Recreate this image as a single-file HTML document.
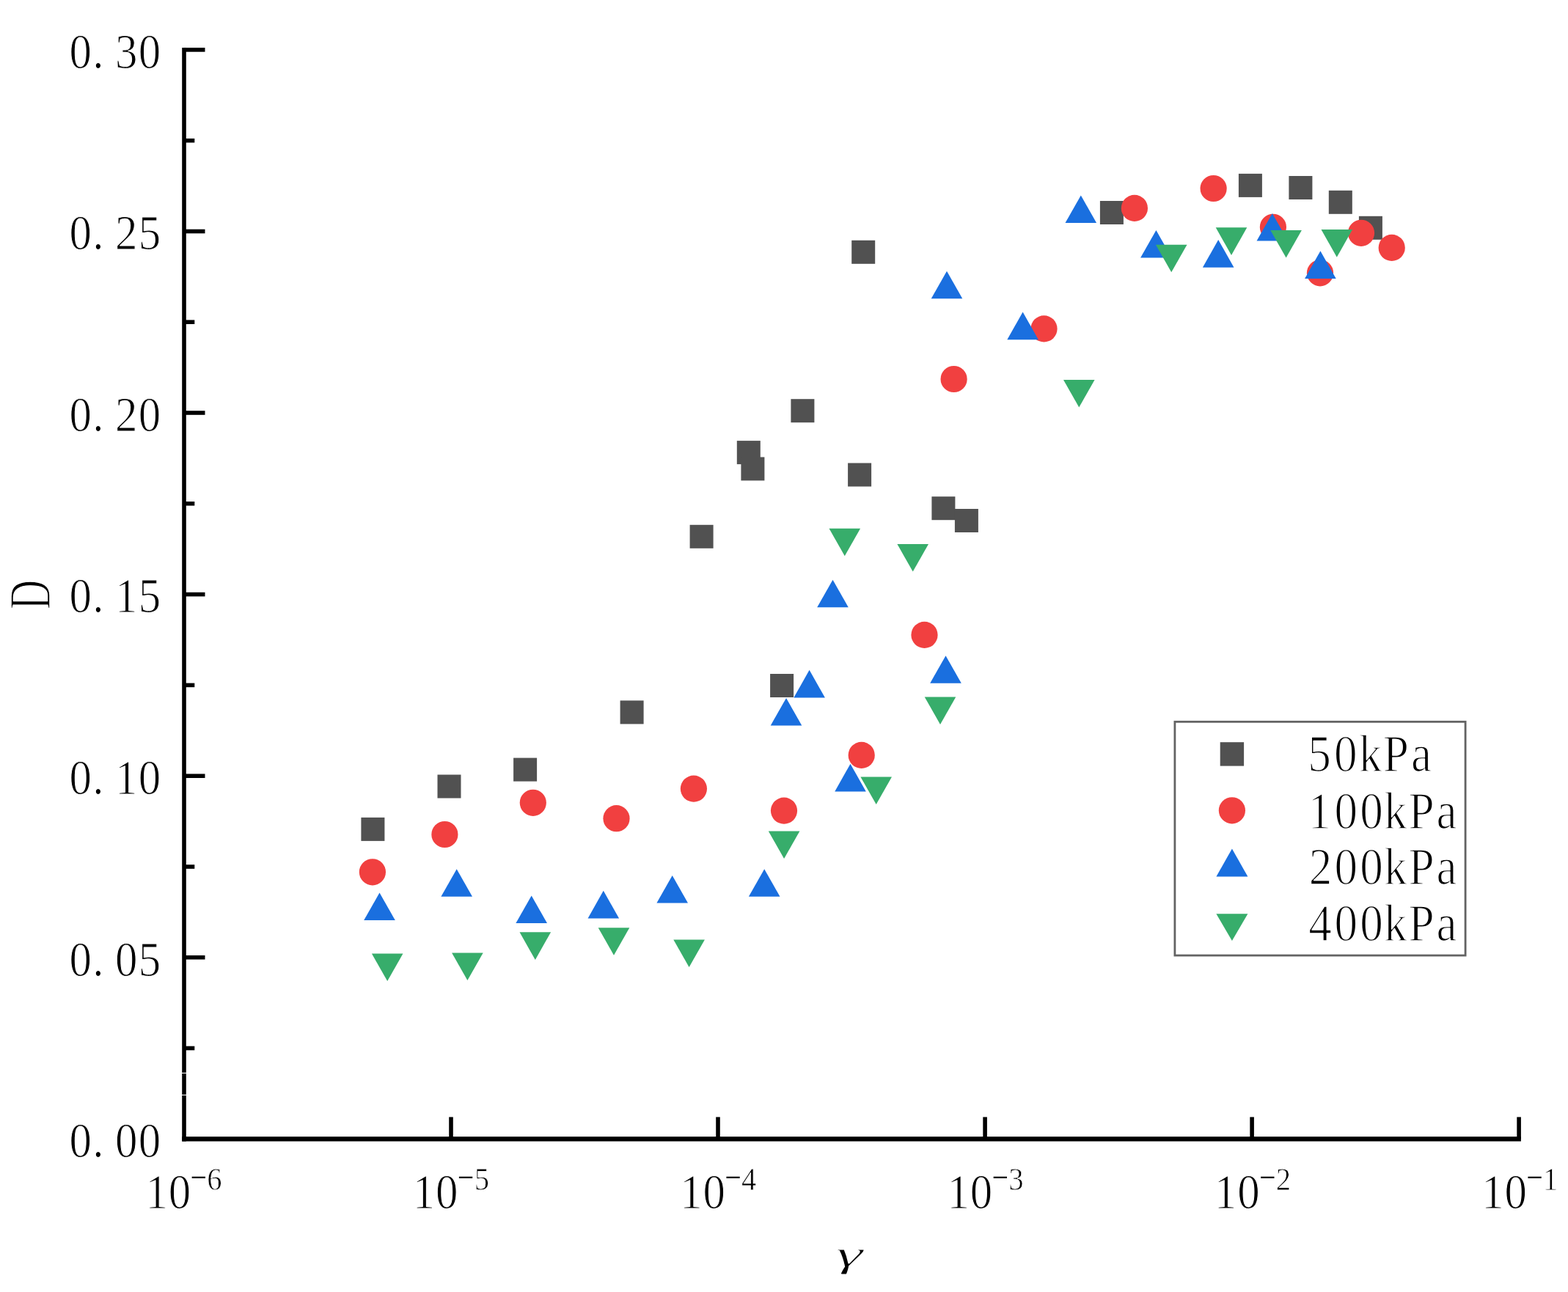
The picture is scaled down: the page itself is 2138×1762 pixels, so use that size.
<!DOCTYPE html>
<html lang="en"><head><meta charset="utf-8"><title>D vs γ</title>
<style>
html,body{margin:0;padding:0;background:#fff;}
body{width:2138px;height:1762px;overflow:hidden;}
svg{display:block;}
text{font-family:'Liberation Serif', 'Noto Serif CJK SC', serif;fill:#000;}
</style></head><body>
<svg width="2138" height="1762" viewBox="0 0 2138 1762">
<rect x="0" y="0" width="2138" height="1762" fill="#ffffff"/>
<g id="chart">
<g id="series-50kPa" fill="#515151">
<rect x="492.4" y="1114.9" width="32.0" height="32.0"/>
<rect x="596.5" y="1056.5" width="32.0" height="32.0"/>
<rect x="700.1" y="1033.6" width="32.0" height="32.0"/>
<rect x="845.6" y="955.4" width="32.0" height="32.0"/>
<rect x="1050.1" y="919.0" width="32.0" height="32.0"/>
<rect x="940.6" y="715.8" width="32.0" height="32.0"/>
<rect x="1004.8" y="601.1" width="32.0" height="32.0"/>
<rect x="1010.4" y="623.4" width="32.0" height="32.0"/>
<rect x="1078.4" y="544.2" width="32.0" height="32.0"/>
<rect x="1156.1" y="631.5" width="32.0" height="32.0"/>
<rect x="1161.2" y="327.8" width="32.0" height="32.0"/>
<rect x="1270.4" y="677.2" width="32.0" height="32.0"/>
<rect x="1301.9" y="694.0" width="32.0" height="32.0"/>
<rect x="1499.9" y="274.0" width="32.0" height="32.0"/>
<rect x="1688.9" y="236.9" width="32.0" height="32.0"/>
<rect x="1757.4" y="240.0" width="32.0" height="32.0"/>
<rect x="1811.8" y="259.8" width="32.0" height="32.0"/>
<rect x="1852.9" y="294.8" width="32.0" height="32.0"/>
</g>
<g id="series-100kPa" fill="#F14040">
<circle cx="507.9" cy="1189.3" r="18.1"/>
<circle cx="606.4" cy="1138.0" r="18.1"/>
<circle cx="726.8" cy="1094.8" r="18.1"/>
<circle cx="840.5" cy="1116.2" r="18.1"/>
<circle cx="945.9" cy="1075.6" r="18.1"/>
<circle cx="1069.0" cy="1105.6" r="18.1"/>
<circle cx="1174.7" cy="1029.9" r="18.1"/>
<circle cx="1260.5" cy="865.9" r="18.1"/>
<circle cx="1300.6" cy="517.0" r="18.1"/>
<circle cx="1423.5" cy="448.4" r="18.1"/>
<circle cx="1546.9" cy="283.9" r="18.1"/>
<circle cx="1654.6" cy="257.0" r="18.1"/>
<circle cx="1735.9" cy="309.8" r="18.1"/>
<circle cx="1800.0" cy="372.3" r="18.1"/>
<circle cx="1856.0" cy="317.8" r="18.1"/>
<circle cx="1897.7" cy="337.9" r="18.1"/>
</g>
<g id="series-200kPa" fill="#1A6FDF">
<polygon points="517.5,1217.4 538.8,1255.0 496.2,1255.0"/>
<polygon points="622.7,1185.2 644.0,1222.8 601.4,1222.8"/>
<polygon points="724.7,1221.4 746.0,1259.0 703.4,1259.0"/>
<polygon points="822.8,1214.8 844.1,1252.4 801.5,1252.4"/>
<polygon points="916.7,1193.9 938.0,1231.5 895.4,1231.5"/>
<polygon points="1042.2,1185.2 1063.5,1222.8 1020.9,1222.8"/>
<polygon points="1072.0,952.0 1093.3,989.6 1050.7,989.6"/>
<polygon points="1103.6,913.8 1124.9,951.4 1082.3,951.4"/>
<polygon points="1159.5,1041.8 1180.8,1079.4 1138.2,1079.4"/>
<polygon points="1135.5,790.7 1156.8,828.3 1114.2,828.3"/>
<polygon points="1289.5,894.2 1310.8,931.8 1268.2,931.8"/>
<polygon points="1291.0,369.7 1312.3,407.3 1269.7,407.3"/>
<polygon points="1394.6,425.6 1415.9,463.2 1373.3,463.2"/>
<polygon points="1473.8,266.4 1495.1,304.0 1452.5,304.0"/>
<polygon points="1576.4,313.9 1597.7,351.5 1555.1,351.5"/>
<polygon points="1661.2,327.1 1682.5,364.7 1639.9,364.7"/>
<polygon points="1734.8,291.0 1756.1,328.6 1713.5,328.6"/>
<polygon points="1800.4,342.3 1821.7,379.9 1779.1,379.9"/>
</g>
<g id="series-400kPa" fill="#37AD6B">
<polygon points="506.9,1300.5 549.5,1300.5 528.2,1338.1"/>
<polygon points="616.1,1299.4 658.7,1299.4 637.4,1337.0"/>
<polygon points="708.5,1271.3 751.1,1271.3 729.8,1308.9"/>
<polygon points="815.7,1265.2 858.3,1265.2 837.0,1302.8"/>
<polygon points="918.3,1281.4 960.9,1281.4 939.6,1319.0"/>
<polygon points="1047.8,1133.5 1090.4,1133.5 1069.1,1171.1"/>
<polygon points="1173.4,1059.5 1216.0,1059.5 1194.7,1097.1"/>
<polygon points="1260.7,950.4 1303.3,950.4 1282.0,988.0"/>
<polygon points="1130.5,720.7 1173.1,720.7 1151.8,758.3"/>
<polygon points="1223.4,742.0 1266.0,742.0 1244.7,779.6"/>
<polygon points="1450.0,518.0 1492.6,518.0 1471.3,555.6"/>
<polygon points="1575.9,333.7 1618.5,333.7 1597.2,371.3"/>
<polygon points="1657.7,310.3 1700.3,310.3 1679.0,347.9"/>
<polygon points="1732.3,313.9 1774.9,313.9 1753.6,351.5"/>
<polygon points="1801.5,313.1 1844.1,313.1 1822.8,350.7"/>
</g>
<g id="axes" fill="#000">
<rect x="248.2" y="65.1" width="5.6" height="1491.4"/>
<rect x="248.2" y="1550.1" width="1825.7" height="6.4"/>
<rect x="251.0" y="1426.7" width="14.3" height="5.6"/>
<rect x="251.0" y="1302.9" width="28.5" height="5.6"/>
<rect x="251.0" y="1179.2" width="14.3" height="5.6"/>
<rect x="251.0" y="1055.4" width="28.5" height="5.6"/>
<rect x="251.0" y="931.6" width="14.3" height="5.6"/>
<rect x="251.0" y="807.8" width="28.5" height="5.6"/>
<rect x="251.0" y="684.0" width="14.3" height="5.6"/>
<rect x="251.0" y="560.2" width="28.5" height="5.6"/>
<rect x="251.0" y="436.4" width="14.3" height="5.6"/>
<rect x="251.0" y="312.7" width="28.5" height="5.6"/>
<rect x="251.0" y="188.9" width="14.3" height="5.6"/>
<rect x="251.0" y="65.1" width="28.5" height="5.6"/>
<rect x="247.0" y="1462.9" width="8.0" height="1.1" fill="#fff"/>
<rect x="247.0" y="1492.8" width="8.0" height="1.1" fill="#fff"/>
<rect x="612.2" y="1523.4" width="5.6" height="29.9"/>
<rect x="976.2" y="1523.4" width="5.6" height="29.9"/>
<rect x="1340.3" y="1523.4" width="5.6" height="29.9"/>
<rect x="1704.3" y="1523.4" width="5.6" height="29.9"/>
<rect x="2068.3" y="1523.4" width="5.6" height="29.9"/>
</g>
<g id="ylabels">
<text transform="scale(0.9050 1)" x="104.50 139.54 173.56 208.48" y="1578.2" font-size="67.3" stroke="#fff" stroke-width="1.10" stroke-linejoin="round">0.00</text>
<text transform="scale(0.9050 1)" x="104.50 139.54 173.56 208.48" y="1330.6" font-size="67.3" stroke="#fff" stroke-width="1.10" stroke-linejoin="round">0.05</text>
<text transform="scale(0.9050 1)" x="104.50 139.54 173.56 208.48" y="1083.1" font-size="67.3" stroke="#fff" stroke-width="1.10" stroke-linejoin="round">0.10</text>
<text transform="scale(0.9050 1)" x="104.50 139.54 173.56 208.48" y="835.5" font-size="67.3" stroke="#fff" stroke-width="1.10" stroke-linejoin="round">0.15</text>
<text transform="scale(0.9050 1)" x="104.50 139.54 173.56 208.48" y="587.9" font-size="67.3" stroke="#fff" stroke-width="1.10" stroke-linejoin="round">0.20</text>
<text transform="scale(0.9050 1)" x="104.50 139.54 173.56 208.48" y="340.4" font-size="67.3" stroke="#fff" stroke-width="1.10" stroke-linejoin="round">0.25</text>
<text transform="scale(0.9050 1)" x="104.50 139.54 173.56 208.48" y="92.8" font-size="67.3" stroke="#fff" stroke-width="1.10" stroke-linejoin="round">0.30</text>
</g>
<g id="xlabels">
<text transform="scale(0.905 1)"><tspan x="219.31 253.89" y="1648.3" font-size="67.3" stroke="#fff" stroke-width="1.10" stroke-linejoin="round">10</tspan><tspan x="287.01" y="1620.3" font-size="43.6">−</tspan><tspan x="311.95" y="1623.0" font-size="45.0" stroke="#fff" stroke-width="0.80" stroke-linejoin="round">6</tspan></text>
<text transform="scale(0.905 1)"><tspan x="621.90 656.49" y="1648.3" font-size="67.3" stroke="#fff" stroke-width="1.10" stroke-linejoin="round">10</tspan><tspan x="689.60" y="1620.3" font-size="43.6">−</tspan><tspan x="714.55" y="1623.0" font-size="45.0" stroke="#fff" stroke-width="0.80" stroke-linejoin="round">5</tspan></text>
<text transform="scale(0.905 1)"><tspan x="1024.50 1059.09" y="1648.3" font-size="67.3" stroke="#fff" stroke-width="1.10" stroke-linejoin="round">10</tspan><tspan x="1092.20" y="1620.3" font-size="43.6">−</tspan><tspan x="1117.15" y="1623.0" font-size="45.0" stroke="#fff" stroke-width="0.80" stroke-linejoin="round">4</tspan></text>
<text transform="scale(0.905 1)"><tspan x="1427.10 1461.68" y="1648.3" font-size="67.3" stroke="#fff" stroke-width="1.10" stroke-linejoin="round">10</tspan><tspan x="1494.80" y="1620.3" font-size="43.6">−</tspan><tspan x="1519.74" y="1623.0" font-size="45.0" stroke="#fff" stroke-width="0.80" stroke-linejoin="round">3</tspan></text>
<text transform="scale(0.905 1)"><tspan x="1829.69 1864.28" y="1648.3" font-size="67.3" stroke="#fff" stroke-width="1.10" stroke-linejoin="round">10</tspan><tspan x="1897.39" y="1620.3" font-size="43.6">−</tspan><tspan x="1922.34" y="1623.0" font-size="45.0" stroke="#fff" stroke-width="0.80" stroke-linejoin="round">2</tspan></text>
<text transform="scale(0.905 1)"><tspan x="2232.29 2266.88" y="1648.3" font-size="67.3" stroke="#fff" stroke-width="1.10" stroke-linejoin="round">10</tspan><tspan x="2299.99" y="1620.3" font-size="43.6">−</tspan><tspan x="2324.94" y="1623.0" font-size="45.0" stroke="#fff" stroke-width="0.80" stroke-linejoin="round">1</tspan></text>
</g>
<text id="ytitle" font-size="80.0" transform="translate(67.9 829.6) rotate(-90) scale(0.700 1)" x="-2.32" y="0" stroke="#fff" stroke-width="1.60" stroke-linejoin="round">D</text>
<text id="xtitle" font-size="50.0" font-style="italic" transform="translate(1139.93 1727.3) scale(1.850 1)" x="0" y="0" stroke="#fff" stroke-width="1.0">γ</text>
<g id="legend">
<rect x="1601.9" y="984.3" width="396.2" height="318.7" fill="#fff" stroke="#636363" stroke-width="2.8"/>
<rect x="1663.7" y="1012.2" width="32.4" height="32.4" fill="#515151"/>
<circle cx="1679.9" cy="1105.3" r="18.1" fill="#F14040"/>
<polygon points="1679.9,1157.6 1701.4,1195.4 1658.4,1195.4" fill="#1A6FDF"/>
<polygon points="1658.4,1246.3 1701.4,1246.3 1679.9,1283.0" fill="#37AD6B"/>
<text transform="scale(0.8900 1)" x="2003.60 2043.94 2081.69 2118.85 2161.69" y="1052.4" font-size="71.0" stroke="#fff" stroke-width="1.50" stroke-linejoin="round">50kPa</text>
<text transform="scale(0.8900 1)" x="2003.95 2044.27 2083.37 2120.11 2157.96 2200.68" y="1130.3" font-size="71.0" stroke="#fff" stroke-width="1.50" stroke-linejoin="round">100kPa</text>
<text transform="scale(0.8900 1)" x="2005.34 2044.27 2083.37 2120.11 2157.96 2200.68" y="1206.4" font-size="71.0" stroke="#fff" stroke-width="1.50" stroke-linejoin="round">200kPa</text>
<text transform="scale(0.8900 1)" x="2004.80 2044.27 2083.37 2120.11 2157.96 2200.68" y="1282.7" font-size="71.0" stroke="#fff" stroke-width="1.50" stroke-linejoin="round">400kPa</text>
</g>
</g>
</svg>
</body></html>
